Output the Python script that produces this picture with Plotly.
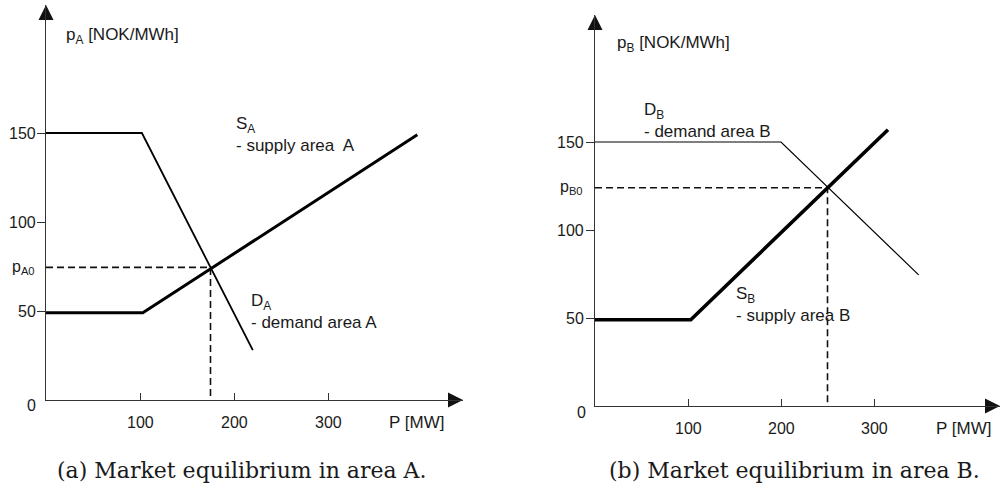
import plotly.graph_objects as go

W, H = 1001, 491

# ---------------- data ----------------
supply_a_p = [0, 103, 395]
supply_a_price = [49, 49, 149]
demand_a_p = [0, 102, 220]
demand_a_price = [150, 150, 28]
eq_a_p, eq_a_price = 175, 74.5

supply_b_p = [0, 103, 315]
supply_b_price = [49, 49, 157]
demand_b_p = [0, 200, 348]
demand_b_price = [150, 150, 74.5]
eq_b_p, eq_b_price = 250, 124

x_ticks = [100, 200, 300]
x_tick_labels = ["100", "200", "300"]
y_ticks = [50, 100, 150]
y_tick_labels = ["50", "100", "150"]

# ---------------- layout helpers ----------------
def px(x):
    return x / W

def py(y):
    return 1 - y / H

# panel geometry (pixel origin, pixel per unit)
A = dict(ox=46, oy=400, sx=0.94, sy=1.78, xr=463, yt=5)
B = dict(ox=595, oy=406, sx=0.93, sy=1.76, xr=1000, yt=15)

AXC = "#333333"
FONT = "Liberation Sans, Arial, sans-serif"

fig = go.Figure()

def add_panel(g, xa, ya, supply, demand, dx_, dy_, sw, dw):
    xref = "x" if xa == "xaxis" else "x2"
    yref = "y" if ya == "yaxis" else "y2"
    xmax = (g["xr"] - g["ox"]) / g["sx"]
    ymax = (g["oy"] - g["yt"]) / g["sy"]
    fig.update_layout(**{
        xa: dict(domain=[px(g["ox"]), min(1, px(g["xr"]))], range=[0, xmax],
                 showline=True, linecolor=AXC, linewidth=1.3, showgrid=False,
                 zeroline=False, ticks="inside", ticklen=7, tickcolor=AXC,
                 tickwidth=1.2, tickvals=x_ticks, showticklabels=False,
                 anchor=yref, fixedrange=True),
        ya: dict(domain=[py(g["oy"]), py(g["yt"])], range=[0, ymax],
                 showline=True, linecolor=AXC, linewidth=1.3, showgrid=False,
                 zeroline=False, ticks="outside", ticklen=8, tickcolor=AXC,
                 tickwidth=1.2, tickvals=y_ticks, showticklabels=False,
                 anchor=xref, fixedrange=True),
    })
    # dashed equilibrium lines
    fig.add_trace(go.Scatter(x=[0, dx_, dx_], y=[dy_, dy_, 0], mode="lines",
                             line=dict(color="#111", width=1.6, dash="7px,4px"),
                             xaxis=xref, yaxis=yref, hoverinfo="skip"))
    # curves
    fig.add_trace(go.Scatter(x=supply[0], y=supply[1], mode="lines",
                             line=dict(color="black", width=sw),
                             xaxis=xref, yaxis=yref, cliponaxis=False))
    fig.add_trace(go.Scatter(x=demand[0], y=demand[1], mode="lines",
                             line=dict(color="black", width=dw),
                             xaxis=xref, yaxis=yref, cliponaxis=False))
    # arrow heads on axes
    fig.add_trace(go.Scatter(x=[0], y=[ymax], mode="markers",
                             marker=dict(symbol="arrow-up", size=15, color="#111"),
                             xaxis=xref, yaxis=yref, cliponaxis=False))
    fig.add_trace(go.Scatter(x=[xmax], y=[0], mode="markers",
                             marker=dict(symbol="arrow-right", size=15, color="#111"),
                             xaxis=xref, yaxis=yref, cliponaxis=False))
    return xref, yref

xa_ref, ya_ref = add_panel(A, "xaxis", "yaxis",
                           (supply_a_p, supply_a_price), (demand_a_p, demand_a_price),
                           eq_a_p, eq_a_price, 3.0, 1.8)
xb_ref, yb_ref = add_panel(B, "xaxis2", "yaxis2",
                           (supply_b_p, supply_b_price), (demand_b_p, demand_b_price),
                           eq_b_p, eq_b_price, 3.6, 1.2)

ann = []
def text(x, y, t, xref="paper", yref="paper", xanchor="left", yanchor="middle",
         size=17, family=FONT, align="left"):
    ann.append(dict(x=x, y=y, xref=xref, yref=yref, text=t, showarrow=False,
                    xanchor=xanchor, yanchor=yanchor, align=align,
                    font=dict(family=family, size=size, color="#1a1a1a")))

# tick labels
for v, t in zip(x_ticks, x_tick_labels):
    text(v, py(422), t, xref=xa_ref, xanchor="center", size=16)
    text(v, py(428), t, xref=xb_ref, xanchor="center", size=16)
for v, t in zip(y_ticks, y_tick_labels):
    text(px(38), v, t, yref=ya_ref, xanchor="right", size=16)
    text(px(586), v, t, yref=yb_ref, xanchor="right", size=16)
text(px(38), py(405), "0", xanchor="right", size=16)
text(px(588), py(412), "0", xanchor="right", size=16)
text(px(37), eq_a_price, "p<sub>A0</sub>", yref=ya_ref, xanchor="right", size=16)
text(px(585), eq_b_price, "p<sub>B0</sub>", yref=yb_ref, xanchor="right", size=16)

# axis titles
text(px(64), py(36), "p<sub>A</sub> [NOK/MWh]")
text(px(615), py(44), "p<sub>B</sub> [NOK/MWh]")
text(px(387), py(422), "P [MW]")
text(px(934), py(428), "P [MW]")

# curve labels
text(px(234), py(134), "S<sub>A</sub><br>- supply area  A")
text(px(249), py(311), "D<sub>A</sub><br>- demand area A")
text(px(642), py(120), "D<sub>B</sub><br>- demand area B")
text(px(734), py(304), "S<sub>B</sub><br>- supply area B")

# captions
SERIF = "DejaVu Serif, serif"
text(px(242), py(470), "(a) Market equilibrium in area A.", xanchor="center",
     size=22, family=SERIF)
text(px(794), py(470), "(b) Market equilibrium in area B.", xanchor="center",
     size=22, family=SERIF)

fig.update_layout(width=W, height=H, margin=dict(l=0, r=0, t=0, b=0),
                  paper_bgcolor="white", plot_bgcolor="white",
                  showlegend=False, annotations=ann)

fig.write_html("out.html")
